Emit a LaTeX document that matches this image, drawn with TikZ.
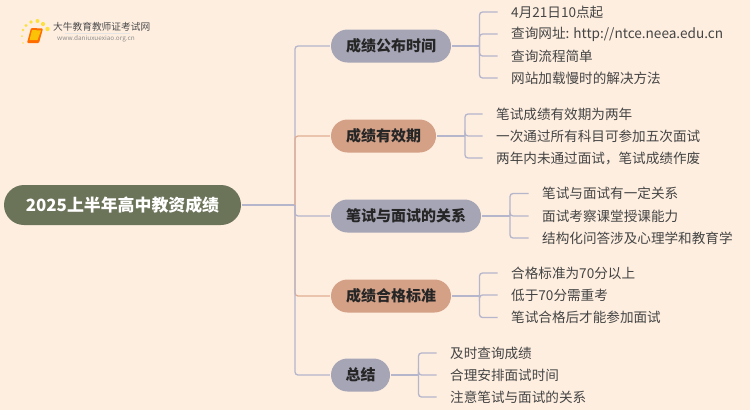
\documentclass[tikz,border=0pt]{standalone}
\usepackage{fontspec}
\setmainfont{Noto Sans CJK SC}
\usetikzlibrary{calc}
\definecolor{bgc}{HTML}{FEEEE0}
\definecolor{rootc}{HTML}{6B7359}
\definecolor{lav}{HTML}{A6A5B6}
\definecolor{tan}{HTML}{D4A187}
\definecolor{lnl}{HTML}{B5B5CC}
\definecolor{lnt}{HTML}{E2AE93}
\definecolor{txt}{HTML}{444444}
\tikzset{x=1pt,y=-1pt,
 rootn/.style={rounded corners=20pt,fill=rootc,text=white,font=\fontsize{16.9}{19}\selectfont\bfseries,minimum height=40pt,inner sep=0pt,minimum width=237pt,align=center},
 mainn/.style={fill=#1,rounded corners=16.5pt,font=\fontsize{15}{17}\selectfont\bfseries,text=black!85,minimum height=33pt,inner sep=0pt,align=center},
 leafn/.style={anchor=west,font=\fontsize{13.6}{16}\selectfont,text=txt,inner sep=0pt},
 lnk/.style={draw=lnl,line width=1.3pt,rounded corners=3pt},
 lnk2/.style={draw=lnt,line width=1.3pt,rounded corners=3pt}}
\begin{document}
\begin{tikzpicture}
\path[use as bounding box,fill=bgc] (0,0) rectangle (750,410);
% logo
\foreach \a/\b/\r in {23/43/0.8,22/36/1,23/30/1.3,26/25.5/1.6,31/22/1.8,37.5/21/2,43/24/2.1,47.5/29/2.2}{\fill[yellow!75!orange!75] (\a,\b) circle (\r);}
\fill[orange!85!red,rounded corners=1pt] (31,28) -- (43,28.5) -- (39,43) -- (27,43) -- cycle;
\fill[yellow!55!orange] (32,30) -- (41,30.5) -- (37.5,40) -- (29.5,40) -- cycle;
\node[inner sep=0pt,anchor=west,font=\fontsize{9.7}{11}\selectfont,text=black!70] (lg1) at (53,27) {大牛教育教师证考试网};
\fill[black!10] (65,33.2) rectangle (130,34);
\node[inner sep=0pt,anchor=west,font=\fontsize{6.3}{8}\selectfont,text=black!45,xscale=1.02] (lg2) at (57,39) {www.daniuxuexiao.org.cn};
% root
\node[rootn] (root) at (122.5,205) {2025上半年高中教资成绩};
% mains
\node[mainn=lav,minimum width=120pt] (m1) at (391,46) {成绩公布时间};
\node[mainn=tan,minimum width=105pt] (m2) at (383.5,136) {成绩有效期};
\node[mainn=lav,minimum width=150pt] (m3) at (406,216) {笔试与面试的关系};
\node[mainn=tan,minimum width=120pt] (m4) at (391,296) {成绩合格标准};
\node[mainn=lav,minimum width=59pt] (m5) at (360.5,375) {总结};
\coordinate (tr) at (295,205);
\draw[lnk,shorten <=0.5pt] (root.east) -- (tr);
\draw[lnk,shorten >=1pt] (tr) |- (m1.west);
\draw[lnk2,shorten >=1pt] (tr) |- (m2.west);
\draw[lnk2,shorten >=1pt] (tr) |- (m4.west);
\draw[lnk,shorten >=1pt] (tr) |- (m3.west);
\draw[lnk,shorten >=1pt] (tr) |- (m5.west);
% leaves
\node[leafn] (a1) at (511,12) {4月21日10点起};
\node[leafn] (a2) at (511,34) {查询网址: http://ntce.neea.edu.cn};
\node[leafn] (a3) at (511,56) {查询流程简单};
\node[leafn] (a4) at (511,78) {网站加载慢时的解决方法};
\node[leafn] (b1) at (496,114) {笔试成绩有效期为两年};
\node[leafn] (b2) at (496,136) {一次通过所有科目可参加五次面试};
\node[leafn] (b3) at (496,158) {两年内未通过面试，笔试成绩作废};
\node[leafn] (c1) at (542,193.5) {笔试与面试有一定关系};
\node[leafn] (c2) at (542,216) {面试考察课堂授课能力};
\node[leafn] (c3) at (542,238) {结构化问答涉及心理学和教育学};
\node[leafn] (d1) at (511,273) {合格标准为70分以上};
\node[leafn] (d2) at (511,295) {低于70分需重考};
\node[leafn] (d3) at (511,317.5) {笔试合格后才能参加面试};
\node[leafn] (e1) at (450,353) {及时查询成绩};
\node[leafn] (e2) at (450,375) {合理安排面试时间};
\node[leafn] (e3) at (450,397) {注意笔试与面试的关系};
\foreach \m/\x/\ls in {m1/479.5/{a1,a2,a3,a4},m2/465/{b1,b2,b3},m3/510/{c1,c2,c3},m4/479.5/{d1,d2,d3},m5/418.5/{e1,e2,e3}}{
 \coordinate (j) at (\x,0);
 \draw[lnk] (\m.east) ++(1.2,0) -- (\m.east -| j);
 \foreach \l in \ls { \draw[lnk] (\m.east -| j) |- ($(\l.west)+(-13.5,0)$); }
}
\end{tikzpicture}
\end{document}
